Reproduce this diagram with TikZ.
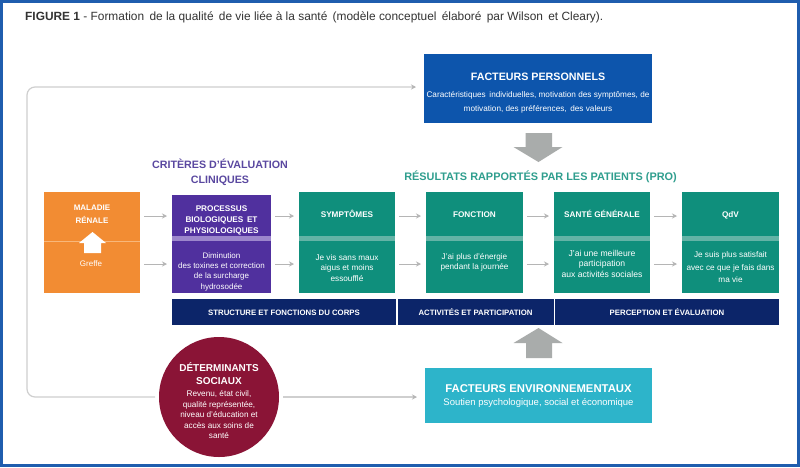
\documentclass[tikz,border=0pt]{standalone}
\usepackage{fontspec}
\setmainfont{Liberation Sans}
\usetikzlibrary{arrows.meta}
\definecolor{frameblue}{HTML}{1F5DAE}
\definecolor{orangeb}{HTML}{F28C33}
\definecolor{orangel}{HTML}{F8B77A}
\definecolor{purpleb}{HTML}{50309E}
\definecolor{purplel}{HTML}{9C86CC}
\definecolor{tealb}{HTML}{0F8F7C}
\definecolor{teall}{HTML}{63B3A6}
\definecolor{navyb}{HTML}{0C2569}
\definecolor{blueb}{HTML}{0D55AC}
\definecolor{cyanb}{HTML}{2DB4CA}
\definecolor{maroonb}{HTML}{8A1436}
\definecolor{greyb}{HTML}{A9ACAB}
\definecolor{linegrey}{HTML}{CFCFCF}
\definecolor{smallgrey}{HTML}{B5B5B5}
\definecolor{headpurple}{HTML}{5A48A0}
\definecolor{headteal}{HTML}{2F9E8E}
\newcommand{\hdtxt}[1]{\raisebox{-3.5pt}[0pt][0pt]{#1}}
\tikzset{
  boxn/.style={inner sep=0pt,outer sep=0pt,align=center,text=white,font=\fontsize{8}{10.5}\selectfont},
  headn/.style={boxn,font=\fontsize{8.2}{11}\selectfont\bfseries},
  txtn/.style={inner sep=0pt,outer sep=0pt,align=center,text=white,font=\fontsize{8.2}{10.5}\selectfont},
  flow/.style={draw=smallgrey,line width=0.9pt,-{Stealth[length=5pt,width=5pt]},shorten <=4pt,shorten >=5pt},
  loopline/.style={draw=linegrey,line width=1.2pt,rounded corners=8pt},
  loopend/.style={-{Stealth[length=5pt,width=5pt,color=smallgrey]}},
  blockarrow/.style={fill=greyb},
  barn/.style={boxn,fill=navyb,minimum height=26pt,font=\fontsize{7.8}{9}\selectfont\bfseries},
}
\begin{document}
\begin{tikzpicture}[x=1pt,y=-1pt]
\useasboundingbox (0,0) rectangle (800,467);
\fill[white] (0,0) rectangle (800,467);
\draw[frameblue,line width=3pt] (1.5,1.5) rectangle (798,465.5);
\node[anchor=west,inner sep=0pt,font=\fontsize{11.9}{12}\selectfont,text=black!80] (title) at (25,17)
  {\textbf{FIGURE 1} - Formation\, de la qualité\, de vie liée à la santé\, (modèle conceptuel\, élaboré\, par Wilson\, et Cleary).};
% guide coordinates
\coordinate (row1) at (0,216);
\coordinate (row2) at (0,264);
\coordinate (fl) at (27,87);
% orange
\node[boxn,fill=orangeb,minimum width=96pt,minimum height=49pt] (o1) at (92,216.5) {};
\node[boxn,fill=orangeb,minimum width=96pt,minimum height=52pt] (o2) at (92,267) {};
\draw[orangel,line width=1pt] (o1.south west) -- (o1.south east);
\fill[white] (79,243) -- (92.5,232) -- (106,243) -- (101,243) -- (101,253) -- (84,253) -- (84,243) -- cycle;
\node[txtn,font=\fontsize{8}{12.5}\selectfont\bfseries] (o1t) at (92,214) {MALADIE\\RÉNALE};
\node[txtn,font=\fontsize{8}{10}\selectfont] (o2t) at (91,264) {Greffe};
% purple
\fill[purplel] (172,236) rectangle (271,241);
\node[boxn,fill=purpleb,minimum width=99pt,minimum height=41pt] (p1) at (221.5,215.5) {};
\node[boxn,fill=purpleb,minimum width=99pt,minimum height=52pt] (p2) at (221.5,267) {};
\node[txtn,font=\fontsize{8.2}{11}\selectfont\bfseries] (p1t) at (221.5,220) {PROCESSUS\\BIOLOGIQUES\, ET\\PHYSIOLOGIQUES};
\node[txtn,font=\fontsize{8}{10.3}\selectfont] (p2t) at (221.5,271.5) {Diminution\\des toxines et correction\\de la surcharge\\hydrosodée};
% teal columns
\fill[teall] (299,236) rectangle (395,241);
\fill[teall] (426,236) rectangle (523,241);
\fill[teall] (554,236) rectangle (650,241);
\fill[teall] (682,236) rectangle (779,241);
\node[headn,fill=tealb,minimum width=96pt,minimum height=44pt] (s1) at (347,214) {\hdtxt{SYMPTÔMES}};
\node[boxn,fill=tealb,minimum width=96pt,minimum height=52pt] (s2) at (347,267) {};
\node[txtn] (s2t) at (347,268) {Je vis sans maux\\aigus et moins\\essoufflé};
\node[headn,fill=tealb,minimum width=97pt,minimum height=44pt] (f1) at (474.5,214) {\hdtxt{FONCTION}};
\node[boxn,fill=tealb,minimum width=97pt,minimum height=52pt] (f2) at (474.5,267) {};
\node[txtn] (f2t) at (474.5,262.5) {J'ai plus d'énergie\\pendant la journée};
\node[headn,fill=tealb,minimum width=96pt,minimum height=44pt] (g1) at (602,214) {\hdtxt{SANTÉ GÉNÉRALE}};
\node[boxn,fill=tealb,minimum width=96pt,minimum height=52pt] (g2) at (602,267) {};
\node[txtn,font=\fontsize{8.6}{10.5}\selectfont] (g2t) at (602,263.5) {J'ai une meilleure\\participation\\aux activités sociales};
\node[headn,fill=tealb,minimum width=97pt,minimum height=44pt] (q1) at (730.5,214) {\hdtxt{QdV}};
\node[boxn,fill=tealb,minimum width=97pt,minimum height=52pt] (q2) at (730.5,267) {};
\node[txtn,font=\fontsize{8.2}{12.5}\selectfont] (q2t) at (730.5,267.5) {Je suis plus satisfait\\avec ce que je fais dans\\ma vie};
% flow arrows
\draw[flow] (o1.east |- row1) -- (p1.west |- row1);
\draw[flow] (o2.east |- row2) -- (p2.west |- row2);
\draw[flow] (p1.east |- row1) -- (s1.west |- row1);
\draw[flow] (p2.east |- row2) -- (s2.west |- row2);
\draw[flow] (s1.east |- row1) -- (f1.west |- row1);
\draw[flow] (s2.east |- row2) -- (f2.west |- row2);
\draw[flow] (f1.east |- row1) -- (g1.west |- row1);
\draw[flow] (f2.east |- row2) -- (g2.west |- row2);
\draw[flow] (g1.east |- row1) -- (q1.west |- row1);
\draw[flow] (g2.east |- row2) -- (q2.west |- row2);
% headings
\node[inner sep=0pt,align=center,text=headpurple,font=\fontsize{10.7}{15}\selectfont\bfseries] (crit) at (220,172.5)
  {CRITÈRES D'ÉVALUATION\\CLINIQUES};
\node[inner sep=0pt,text=headteal,font=\fontsize{10.9}{12}\selectfont\bfseries] (res) at (540.5,176.5)
  {RÉSULTATS RAPPORTÉS PAR LES PATIENTS (PRO)};
% navy bars
\node[barn,minimum width=224pt] (b1) at (284,312) {\hdtxt{STRUCTURE ET FONCTIONS DU CORPS}};
\node[barn,minimum width=156pt] (b2) at (475.5,312) {\hdtxt{ACTIVITÉS ET PARTICIPATION}};
\node[barn,minimum width=224pt] (b3) at (667,312) {\hdtxt{PERCEPTION ET ÉVALUATION}};
% factors
\node[boxn,fill=blueb,minimum width=228pt,minimum height=69pt] (pers) at (538,88.5) {};
\node[txtn,font=\fontsize{10.7}{12}\selectfont\bfseries] (perst) at (538,77) {FACTEURS PERSONNELS};
\node[txtn,font=\fontsize{8.2}{14}\selectfont] (perss) at (538,102) {Caractéristiques\, individuelles, motivation des symptômes, de\\motivation, des préférences,\, des valeurs};
\node[boxn,fill=cyanb,minimum width=227pt,minimum height=55pt] (env) at (538.5,395.5) {};
\node[txtn,font=\fontsize{11.3}{12}\selectfont\bfseries] (envt) at (538.5,389) {FACTEURS ENVIRONNEMENTAUX};
\node[txtn,font=\fontsize{9.5}{12}\selectfont] (envs) at (538.5,403) {Soutien psychologique, social et économique};
% block arrows
\fill[blockarrow] (525.5,133) -- (552,133) -- (552,147) -- (562.5,147) -- (538.5,162) -- (513.5,147) -- (525.5,147) -- cycle;
\fill[blockarrow] (526,358) -- (552,358) -- (552,343) -- (562.5,343) -- (538.5,328) -- (513.5,343) -- (526,343) -- cycle;
% determinants
\node[circle,fill=maroonb,minimum size=120pt,inner sep=0pt,outer sep=0pt] (sd) at (219,397) {};
\node[txtn,font=\fontsize{10}{13.5}\selectfont\bfseries] (sdt) at (219,373.5) {DÉTERMINANTS\\SOCIAUX};
\node[txtn,font=\fontsize{8.2}{10.5}\selectfont] (sds) at (219,415) {Revenu, état civil,\\qualité représentée,\\niveau d'éducation et\\accès aux soins de\\santé};
% connectors
\draw[loopline,loopend,shorten <=4pt,shorten >=8pt] (sd.west) -| (fl) -- (pers.west |- fl);
\draw[loopline,loopend,rounded corners=0pt,shorten <=4pt,shorten >=8pt] (sd.east) -- (env.west |- sd.east);
\end{tikzpicture}
\end{document}
